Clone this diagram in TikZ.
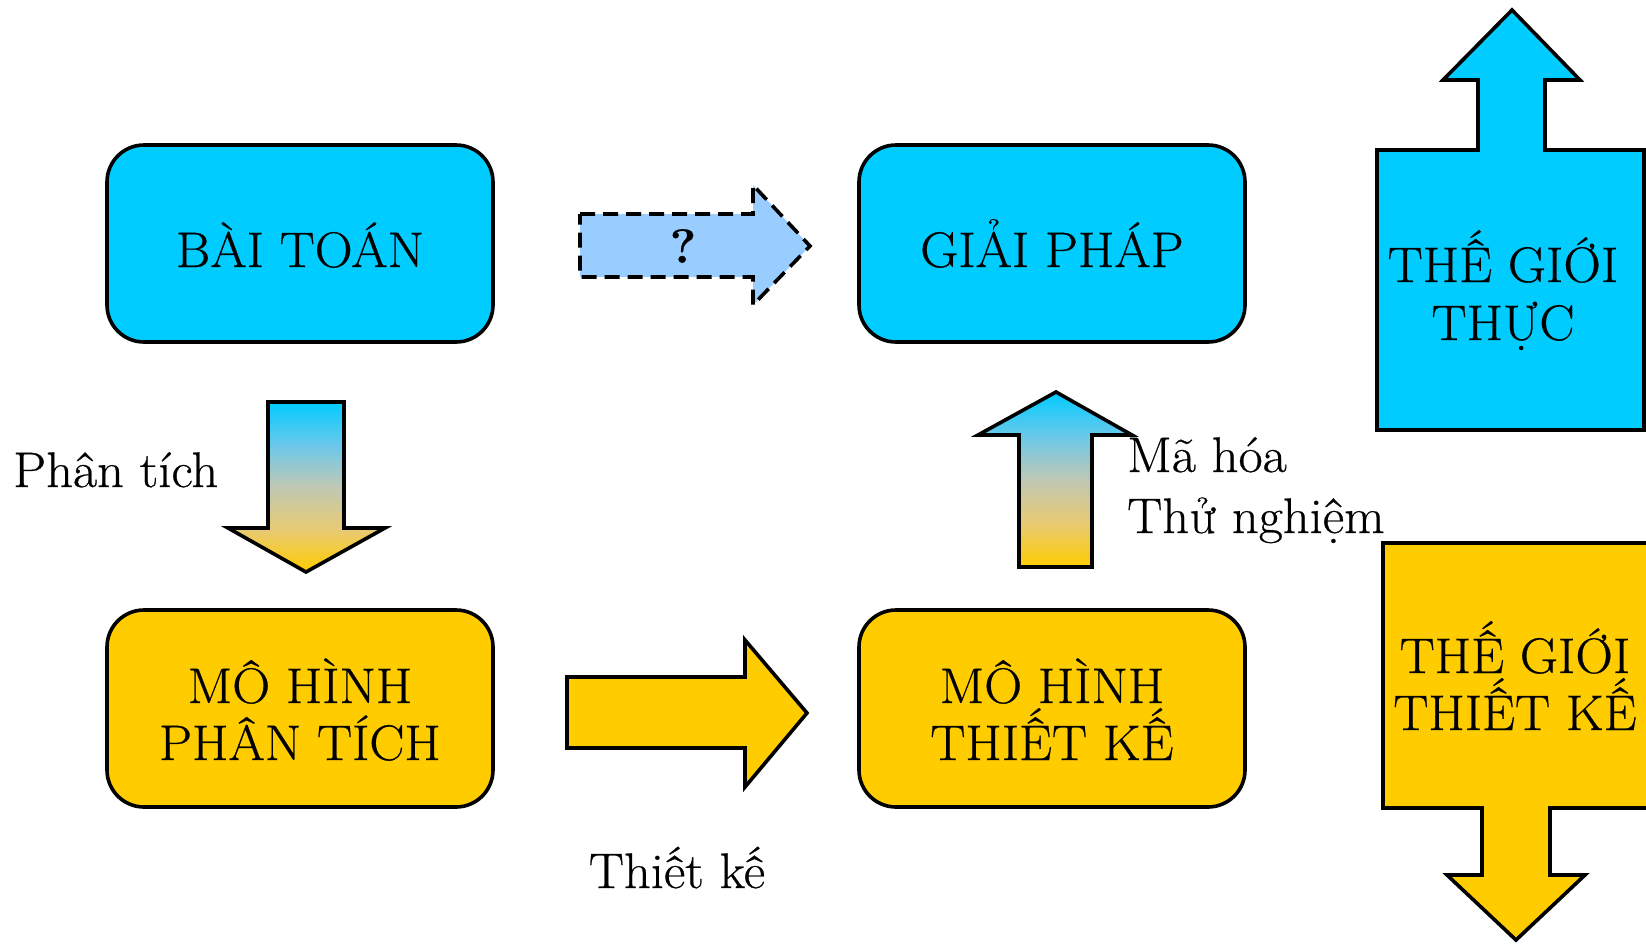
\documentclass[tikz,border=0pt]{standalone}
\usepackage{fontspec}
\setmainfont{Latin Modern Roman}[FakeBold=0.5, FakeStretch=1.05]
\definecolor{skyc}{RGB}{0,204,255}
\definecolor{goldc}{RGB}{255,204,0}
\definecolor{paleblue}{RGB}{153,204,255}
\definecolor{tintblue}{RGB}{105,200,235}
\definecolor{midtone}{RGB}{192,200,180}
\definecolor{tintgold}{RGB}{232,202,115}
% sky-to-gold vertical fade (0bp = bottom, path spans 25bp..75bp)
\pgfdeclareverticalshading{skygold}{100bp}{%
  color(0bp)=(goldc); color(25bp)=(goldc); color(37.5bp)=(tintgold);
  color(50bp)=(midtone); color(62.5bp)=(tintblue); color(75bp)=(skyc);
  color(100bp)=(skyc)}
\begin{document}
\begin{tikzpicture}[x=1pt,y=-1pt,
  line join=miter,
  box/.style={draw, line width=3.6pt, rounded corners=37pt,
    minimum width=386pt, minimum height=197pt, inner sep=0pt},
  txt/.style={font=\fontsize{50}{57}\selectfont, inner sep=0pt},
  blockarrow/.style={draw, line width=3.6pt},
  grad/.style={blockarrow, shading=skygold}]
\useasboundingbox (0,0) rectangle (1646,943);
\clip (0,0) rectangle (1646,943);

% the four rounded boxes
\node[box, fill=skyc]  (bt)   at (300,243.5) {};
\node[box, fill=skyc]  (gp)   at (1052,243.5) {};
\node[box, fill=goldc] (mhpt) at (300,708.5) {};
\node[box, fill=goldc] (mhtk) at (1052,708.5) {};
\node[txt, anchor=base] (bt-t) at (300,267) {BÀI TOÁN};
\node[txt, anchor=base] (gp-t) at (1052,267) {GIẢI PHÁP};
% multi-line nodes: the base anchor sits on the last line
\node[txt, anchor=base, align=center] (mhpt-t) at (300,760) {MÔ HÌNH\\PHÂN TÍCH};
\node[txt, anchor=base, align=center] (mhtk-t) at (1052,760) {MÔ HÌNH\\THIẾT KẾ};

% dashed arrow between BÀI TOÁN and GIẢI PHÁP
\path[draw, line width=3.6pt, fill=paleblue, dash pattern=on 15pt off 8pt]
  (580,214) -- (753,214) -- (753,185) -- (810,246) -- (753,305)
  -- (753,277) -- (580,277) -- cycle;
\node[font=\fontsize{48}{57}\selectfont\bfseries, inner sep=0pt] (q) at (683,246) {?};

% analysis arrow (down)
\path[grad] (268,402) -- (344,402) -- (344,528) -- (385,528) -- (306,572)
  -- (228,528) -- (268,528) -- cycle;
\node[txt, anchor=base west] (pt) at (13,487) {Phân tích};

% coding / testing arrow (up)
\path[grad] (1019,567) -- (1092,567) -- (1092,435) -- (1132,435) -- (1056,392)
  -- (978,435) -- (1019,435) -- cycle;
\node[txt, anchor=base west, align=left, font=\fontsize{50}{61}\selectfont] (mh) at (1127,533) {Mã hóa\\Thử nghiệm};

% design arrow (right)
\path[blockarrow, fill=goldc] (567,677) -- (745,677) -- (745,640) -- (807,713)
  -- (745,787) -- (745,748) -- (567,748) -- cycle;
\node[txt, anchor=base] (tk) at (677,888) {Thiết kế};

% real world block with upward arrow
\path[blockarrow, fill=skyc] (1377,430) -- (1377,150) -- (1478,150) -- (1478,80)
  -- (1443,80) -- (1512,10) -- (1580,80) -- (1545,80) -- (1545,150)
  -- (1644,150) -- (1644,430) -- cycle;
\node[txt, anchor=base, align=center, font=\fontsize{50}{58}\selectfont] (tgt) at (1503,340) {THẾ GIỚI\\THỰC};

% design world block with downward arrow
\path[blockarrow, fill=goldc] (1383,543) -- (1700,543) -- (1700,808) -- (1550,808)
  -- (1550,875) -- (1585,875) -- (1516,940) -- (1447,875) -- (1482,875)
  -- (1482,808) -- (1383,808) -- cycle;
\node[txt, anchor=base, align=center] (tgk) at (1515,730) {THẾ GIỚI\\THIẾT KẾ};
\end{tikzpicture}
\end{document}
